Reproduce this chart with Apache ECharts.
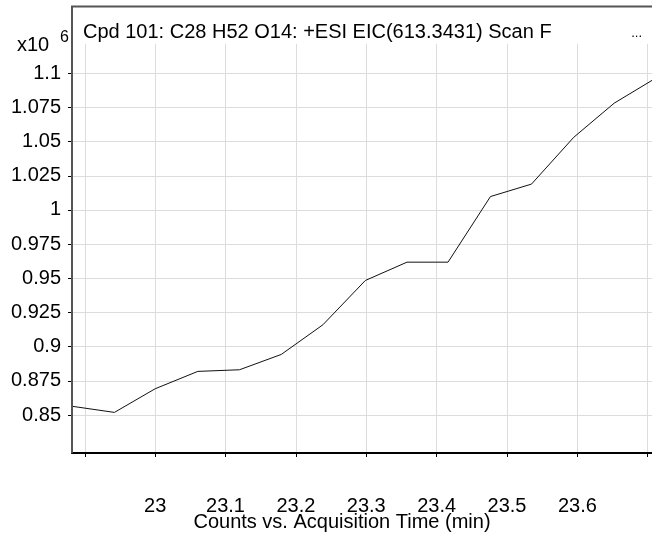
<!DOCTYPE html>
<html>
<head>
<meta charset="utf-8">
<script src="https://cdn.jsdelivr.net/npm/echarts@6/dist/echarts.min.js"></script>
<style>
html,body{margin:0;padding:0;background:#fff;}
#chart{width:652px;height:537px;}
</style>
</head>
<body>
<div id="chart"></div>
<script>
// ---- data ----
const titleText = 'Cpd 101: C28 H52 O14: +ESI EIC(613.3431) Scan F';
const xAxisTitle = 'Counts vs. Acquisition Time (min)';
const times = [22.8829, 22.9421, 23.0000, 23.0606, 23.1199, 23.1792, 23.2384, 23.2987,
               23.3579, 23.4162, 23.4765, 23.5348, 23.5950, 23.6523, 23.7116];
const counts = [856300, 851900, 869200, 881900, 883100, 894300, 916000, 948400,
                961800, 961800, 1009800, 1018900, 1053200, 1078100, 1096500];
const xTicks = [22.9, 23.0, 23.1, 23.2, 23.3, 23.4, 23.5, 23.6, 23.7];
const xTickLabels = [23.0, 23.1, 23.2, 23.3, 23.4, 23.5, 23.6];
const yTicks = [850000, 875000, 900000, 925000, 950000, 975000, 1000000,
                1025000, 1050000, 1075000, 1100000];
const xRange = [22.8818, 23.7061];
const yRange = [822200, 1121400];

const FONT = '"Liberation Sans", Arial, sans-serif';
const chart = echarts.init(document.getElementById('chart'), null, {renderer: 'canvas'});

const option = {
  animation: false,
  backgroundColor: '#fff',
  title: [
    {text: titleText, left: 78, top: 17,
     textStyle: {fontFamily: FONT, fontSize: 20, fontWeight: 'normal', color: '#000'}},
    {text: '...', right: 5, top: 22,
     textStyle: {fontFamily: FONT, fontSize: 13, fontWeight: 'normal', color: '#000'}},
    {text: 'x10', left: 12, top: 30,
     textStyle: {fontFamily: FONT, fontSize: 20, fontWeight: 'normal', color: '#000'}},
    {text: '6', left: 55, top: 25,
     textStyle: {fontFamily: FONT, fontSize: 16, fontWeight: 'normal', color: '#000'}}
  ],
  graphic: [
    {type: 'polyline', silent: true, z: 10,
     shape: {points: [[72, 453], [72, 6.5], [652, 6.5]]},
     style: {stroke: '#555', lineWidth: 2, fill: null}}
  ],
  grid: {left: 72, top: 44, right: 0, bottom: 84, outerBoundsMode: 'none', containLabel: false},
  xAxis: {
    type: 'value',
    min: xRange[0], max: xRange[1],
    name: xAxisTitle,
    nameLocation: 'middle',
    nameGap: 59,
    nameMoveOverlap: false,
    nameTextStyle: {fontFamily: FONT, fontSize: 20, color: '#000', padding: [0, 40, 0, 0]},
    axisLine: {show: true, onZero: false, lineStyle: {color: '#000', width: 2}},
    axisTick: {show: true, inside: false, length: 4, customValues: xTicks,
               lineStyle: {color: '#000', width: 1}},
    axisLabel: {show: true, margin: 43, customValues: xTickLabels,
                fontFamily: FONT, fontSize: 20, color: '#000',
                formatter: v => String(Math.round(v * 10) / 10)},
    splitLine: {show: true, lineStyle: {color: '#dcdcdc', width: 1}}
  },
  yAxis: {
    type: 'value',
    min: yRange[0], max: yRange[1],
    axisLine: {show: true, onZero: false, lineStyle: {color: '#000', width: 1.5}},
    axisTick: {show: true, inside: false, length: 4, customValues: yTicks,
               lineStyle: {color: '#000', width: 1}},
    axisLabel: {show: true, margin: 11, customValues: yTicks,
                fontFamily: FONT, fontSize: 20, color: '#000',
                formatter: v => String(Math.round(v / 1000) / 1000)},
    splitLine: {show: true, lineStyle: {color: '#dcdcdc', width: 1}}
  },
  series: [{
    type: 'line',
    data: times.map((t, i) => [t, counts[i]]),
    showSymbol: false,
    symbol: 'none',
    clip: true,
    lineStyle: {color: '#111', width: 1},
    emphasis: {disabled: true}
  }]
};
chart.setOption(option);
</script>
</body>
</html>
